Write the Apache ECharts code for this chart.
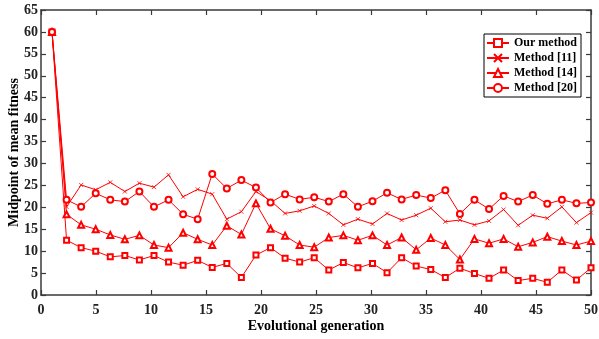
<!DOCTYPE html>
<html>
<head>
<meta charset="utf-8">
<script src="https://cdn.jsdelivr.net/npm/echarts@6/dist/echarts.min.js"></script>
<style>
html,body{margin:0;padding:0;background:#fff;}
#c{width:599px;height:339px;}
</style>
</head>
<body>
<div id="c"></div>
<script>
// Generation (x) positions of the sampled points
const generations = [1, 2.324, 3.649, 4.973, 6.297, 7.622, 8.946, 10.270, 11.595, 12.919,
  14.243, 15.568, 16.892, 18.216, 19.541, 20.865, 22.189, 23.514, 24.838, 26.162,
  27.486, 28.811, 30.135, 31.459, 32.784, 34.108, 35.432, 36.757, 38.081, 39.405,
  40.730, 42.054, 43.378, 44.703, 46.027, 47.351, 48.676, 50];

const ourMethod = [60, 12.5, 10.8, 10.0, 8.7, 9.0, 8.0, 9.0, 7.5, 6.8,
  7.9, 6.3, 7.2, 4.0, 9.1, 10.8, 8.4, 7.5, 8.5, 5.7,
  7.4, 6.2, 7.2, 5.1, 8.5, 6.6, 5.8, 4.0, 6.1, 4.9,
  3.8, 5.7, 3.3, 3.8, 2.9, 5.7, 3.4, 6.2];

const method11 = [60, 20.1, 25.1, 24.0, 25.7, 23.6, 25.5, 24.6, 27.4, 22.4,
  24.1, 23.0, 17.3, 19.0, 23.6, 21.5, 18.6, 19.2, 20.3, 18.6,
  16.0, 17.3, 16.2, 18.6, 17.1, 18.2, 19.8, 16.7, 17.1, 16.0,
  16.9, 19.5, 15.9, 18.2, 17.5, 20.1, 16.5, 18.8];

const method14 = [60, 18.4, 16.0, 15.0, 13.7, 12.7, 13.6, 11.4, 10.8, 14.2,
  12.7, 11.4, 15.8, 13.8, 20.9, 15.1, 13.5, 11.4, 10.9, 13.1,
  13.6, 12.5, 13.6, 11.4, 13.1, 10.3, 13.0, 11.4, 8.1, 12.8,
  11.8, 12.8, 11.0, 12.0, 13.3, 12.3, 11.4, 12.3];

const method20 = [60, 21.7, 20.1, 23.2, 21.7, 21.3, 23.6, 20.1, 21.7, 18.4,
  17.3, 27.6, 24.3, 26.2, 24.5, 21.1, 23.0, 21.8, 22.3, 21.3,
  23.0, 20.1, 21.4, 23.3, 21.8, 22.8, 22.1, 23.9, 18.5, 21.7,
  19.6, 22.6, 21.3, 22.8, 20.8, 21.7, 20.9, 21.1];

const seriesNames = ['Our method', 'Method [11]', 'Method [14]', 'Method [20]'];
const xTitle = 'Evolutional generation';
const yTitle = 'Midpoint of mean fitness';

const FONT = '"Liberation Serif", "Times New Roman", serif';
const RED = '#ff0000';
const AX = '#3a3a3a';

function pairs(ys){ return ys.map((y,i)=>[generations[i], y]); }

const symbols = ['emptyRect', 'path://M0,0L10,10M10,0L0,10', 'emptyTriangle', 'emptyCircle'];
const sizes = [5, 4, 6, 6];
const datas = [ourMethod, method11, method14, method20];

const chart = echarts.init(document.getElementById('c'), null, {renderer:'canvas'});

const axisCommon = {
  axisLine:{show:true, onZero:false, lineStyle:{color:AX, width:1.5}},
  axisTick:{show:true, inside:true, length:5, lineStyle:{color:AX, width:1.2}},
  splitLine:{show:false}
};

chart.setOption({
  animation:false,
  backgroundColor:'#fff',
  grid:{left:41, right:8, top:10, bottom:44, containLabel:false, outerBoundsMode:'none'},
  legend:{
    right:18, top:34,
    orient:'vertical',
    backgroundColor:'#fff',
    borderColor:'#000', borderWidth:1,
    padding:[3,4,3,2],
    itemGap:3,
    itemWidth:22, itemHeight:10,
    textStyle:{fontFamily:FONT, fontWeight:'bold', fontSize:12, color:'#000', width:58, align:'right'},
    data:seriesNames
  },
  xAxis:[
    Object.assign({type:'value', min:0, max:50, interval:5, position:'bottom',
      name:xTitle, nameLocation:'middle', nameGap:24, nameMoveOverlap:false,
      nameTextStyle:{fontFamily:FONT, fontWeight:'bold', fontSize:14, color:'#000'},
      axisLabel:{fontFamily:FONT, fontWeight:'bold', fontSize:14, color:'#222', margin:8}}, axisCommon),
    Object.assign({type:'value', min:0, max:50, interval:5, position:'top',
      axisLabel:{show:false}}, axisCommon)
  ],
  yAxis:[
    Object.assign({type:'value', min:0, max:65, interval:5, position:'left',
      name:yTitle, nameLocation:'middle', nameGap:20, nameMoveOverlap:false,
      nameTextStyle:{fontFamily:FONT, fontWeight:'bold', fontSize:14, color:'#000'},
      axisLabel:{fontFamily:FONT, fontWeight:'bold', fontSize:14, color:'#222', margin:3}}, axisCommon),
    Object.assign({type:'value', min:0, max:65, interval:5, position:'right',
      axisLabel:{show:false}}, axisCommon)
  ],
  series: datas.map((d,k)=>({
    name:seriesNames[k],
    type:'line',
    xAxisIndex:0, yAxisIndex:0,
    data:pairs(d),
    symbol:symbols[k],
    symbolSize:sizes[k],
    showAllSymbol:true,
    lineStyle:{color:RED, width:1},
    itemStyle:{color:RED, borderColor:RED, borderWidth:0.8},
    emphasis:{disabled:true}
  }))
});
</script>
</body>
</html>
